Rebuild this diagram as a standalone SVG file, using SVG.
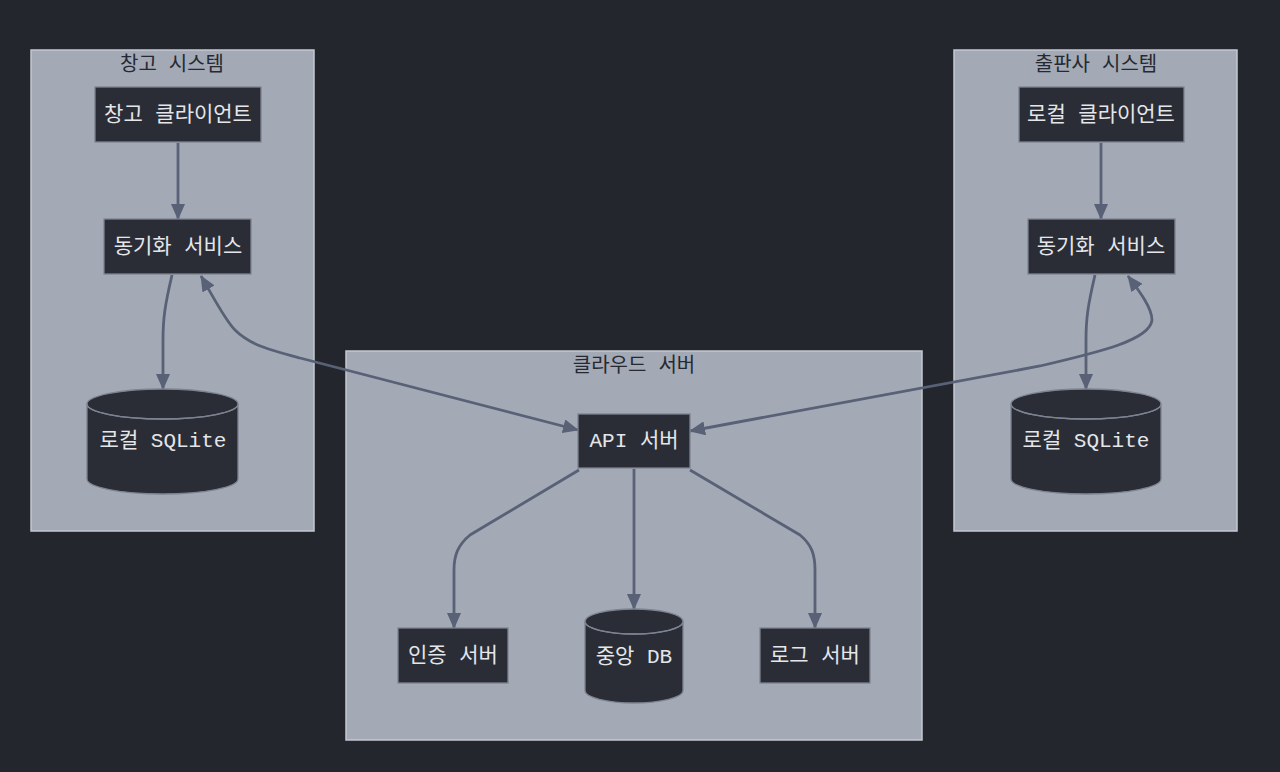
<svg xmlns="http://www.w3.org/2000/svg" width="1280" height="772" viewBox="0 0 1280 772">
<defs>
<style>
.cluster{fill:#a3aab6;stroke:#c3c8d1;stroke-width:1.5}
.ctitle{fill:#262931;font-family:"Liberation Mono","Noto Sans CJK KR",monospace;font-size:20px;text-anchor:middle}
.node{fill:#2a2d35;stroke:#7d8391;stroke-width:1.3}
.ntext{fill:#e4e6ea;font-family:"Liberation Mono","Noto Sans CJK KR",monospace;font-size:21px;text-anchor:middle;dominant-baseline:central}
.inner{fill:none;stroke:#7d8391;stroke-width:1.3}
.edge{fill:none;stroke:#586176;stroke-width:2.8}
</style>
<marker id="arr" viewBox="0 0 16 14" refX="15" refY="7" markerWidth="16" markerHeight="14" markerUnits="userSpaceOnUse" orient="auto-start-reverse">
<path d="M0,0 L16,7 L0,14 z" fill="#586176"/>
</marker>
</defs>
<rect width="1280" height="772" fill="#23262c"/>

<g id="cluster-warehouse">
<rect class="cluster" x="31" y="50" width="283" height="481"/>
<text class="ctitle" x="172" y="71">창고 시스템</text>
</g>
<g id="cluster-publisher">
<rect class="cluster" x="954" y="50" width="283" height="481"/>
<text class="ctitle" x="1096" y="71">출판사 시스템</text>
</g>
<g id="cluster-cloud">
<rect class="cluster" x="346" y="351" width="576" height="389"/>
<text class="ctitle" x="634" y="372">클라우드 서버</text>
</g>

<g id="connectors">
<path class="edge" d="M178,143 L178,219" marker-end="url(#arr)"/>
<path class="edge" d="M172,275 C165,305 163,318 163,340 L163,389" marker-end="url(#arr)"/>
<path class="edge" d="M201,276 C215,300 225,320 235,330 C250,345 270,350 300,358 L578,430" marker-start="url(#arr)" marker-end="url(#arr)"/>
<path class="edge" d="M1101,143 L1101,219" marker-end="url(#arr)"/>
<path class="edge" d="M1095,275 C1088,305 1086,318 1086,340 L1086,389" marker-end="url(#arr)"/>
<path class="edge" d="M1128,276 C1140,292 1152,308 1152,320 C1150,340 1100,352 1040,366 L690,431" marker-start="url(#arr)" marker-end="url(#arr)"/>
<path class="edge" d="M579,470 L470,535 C458,545 454,555 454,570 L454,628" marker-end="url(#arr)"/>
<path class="edge" d="M634,469 L634,609" marker-end="url(#arr)"/>
<path class="edge" d="M690,470 L800,535 C812,545 815,555 815,570 L815,628" marker-end="url(#arr)"/>
</g>

<g id="node-warehouse-client">
<rect class="node" x="95" y="87" width="166" height="55"/>
<text class="ntext" x="178" y="115">창고 클라이언트</text>
</g>
<g id="node-warehouse-sync">
<rect class="node" x="104" y="219" width="147" height="55"/>
<text class="ntext" x="178" y="247">동기화 서비스</text>
</g>
<g id="node-warehouse-db">
<path class="node" d="M87,404 a75.5,15 0 0 0 151,0 a75.5,15 0 0 0 -151,0 l0,75 a75.5,15 0 0 0 151,0 l0,-75"/>
<path class="inner" d="M87,404 a75.5,15 0 0 0 151,0"/>
<text class="ntext" x="163" y="441">로컬 SQLite</text>
</g>

<g id="node-publisher-client">
<rect class="node" x="1019" y="87" width="165" height="55"/>
<text class="ntext" x="1101" y="115">로컬 클라이언트</text>
</g>
<g id="node-publisher-sync">
<rect class="node" x="1028" y="219" width="147" height="55"/>
<text class="ntext" x="1101" y="247">동기화 서비스</text>
</g>
<g id="node-publisher-db">
<path class="node" d="M1011,404 a75,15 0 0 0 150,0 a75,15 0 0 0 -150,0 l0,75 a75,15 0 0 0 150,0 l0,-75"/>
<path class="inner" d="M1011,404 a75,15 0 0 0 150,0"/>
<text class="ntext" x="1086" y="441">로컬 SQLite</text>
</g>

<g id="node-api">
<rect class="node" x="578" y="414" width="112" height="54"/>
<text class="ntext" x="634" y="441">API 서버</text>
</g>
<g id="node-auth">
<rect class="node" x="398" y="628" width="110" height="55"/>
<text class="ntext" x="453" y="656">인증 서버</text>
</g>
<g id="node-central-db">
<path class="node" d="M585,621.5 a49,12.5 0 0 0 98,0 a49,12.5 0 0 0 -98,0 l0,69 a49,12.5 0 0 0 98,0 l0,-69"/>
<path class="inner" d="M585,621.5 a49,12.5 0 0 0 98,0"/>
<text class="ntext" x="634" y="657">중앙 DB</text>
</g>
<g id="node-log">
<rect class="node" x="760" y="628" width="110" height="55"/>
<text class="ntext" x="815" y="656">로그 서버</text>
</g>
</svg>
